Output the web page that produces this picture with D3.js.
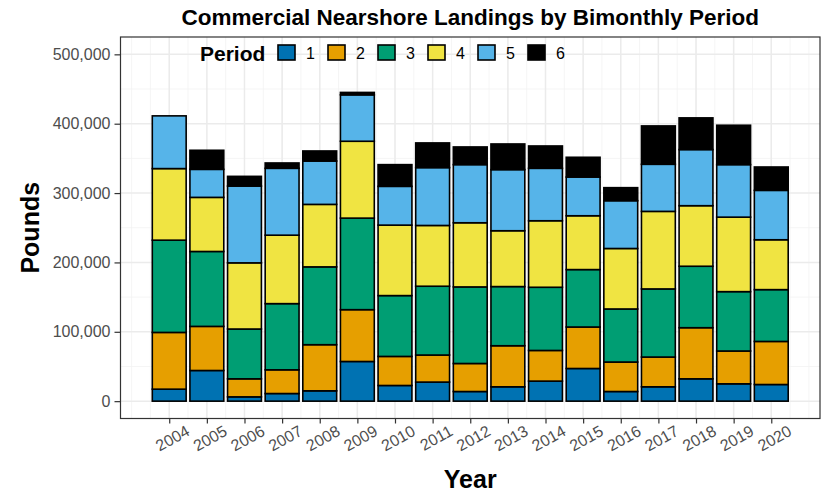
<!DOCTYPE html>
<html><head><meta charset="utf-8">
<script src="https://cdn.jsdelivr.net/npm/d3@7"></script>
<style>body{margin:0;background:#fff}svg{display:block;font-family:"Liberation Sans",Arial,sans-serif}</style>
</head><body><svg id="c" width="821" height="493"></svg>
<script>
const years = [2004,2005,2006,2007,2008,2009,2010,2011,2012,2013,2014,2015,2016,2017,2018,2019,2020];
const periods = ["1","2","3","4","5","6"];
const colors = ["#0072B2","#E69F00","#009E73","#F0E442","#56B4E9","#000000"];
const p1 = [17300,44200,6200,11000,14900,57200,22600,27500,13900,20700,28900,47100,13900,20700,32200,25000,24000];
const p2 = [81800,63600,26000,34200,66500,74700,41900,39000,40400,59200,44200,59800,42500,42900,73700,47300,62100];
const p3 = [133000,108000,71800,95400,112200,132000,87700,99200,110400,85300,91100,82800,76500,98200,88600,85600,74700];
const p4 = [103200,78000,95400,98700,90100,110800,101600,87600,92500,80500,95900,77600,87200,111800,87300,107400,71900];
const p5 = [76000,40400,110700,96400,62500,66900,55900,83400,83800,88100,75600,55800,68900,67900,80900,75700,71200];
const p6 = [0,27500,14000,7700,14500,3500,31300,35600,25500,37000,32200,28500,18800,55300,45700,56800,33700];
const yTicks = [0,100000,200000,300000,400000,500000];

const series = [p1,p2,p3,p4,p5,p6];
const rows = years.map((y,i)=>{const r={year:y}; periods.forEach((p,k)=>r[p]=series[k][i]); return r;});
const stacked = d3.stack().keys(periods)(rows);

const svg = d3.select("#c");
const L=120.5, R=820, T=37, B=418.5;
const x = d3.scaleLinear().domain([2002.705,2021.295]).range([L,R]);
const y = d3.scaleLinear().domain([-25000,525000]).range([B,T]);

// grid
const g = svg.append("g");
const minorX = d3.range(2003,2021.01,0.5);
const minorY = d3.range(50000,460000,100000);
g.selectAll(".mx").data(minorX).join("line").attr("x1",d=>x(d)).attr("x2",d=>x(d)).attr("y1",T).attr("y2",B).attr("stroke","#F2F2F2").attr("stroke-width",0.8);
g.selectAll(".my").data(minorY).join("line").attr("x1",L).attr("x2",R).attr("y1",d=>y(d)).attr("y2",d=>y(d)).attr("stroke","#F2F2F2").attr("stroke-width",0.8);
g.selectAll(".Mx").data(years).join("line").attr("x1",d=>x(d)).attr("x2",d=>x(d)).attr("y1",T).attr("y2",B).attr("stroke","#EBEBEB").attr("stroke-width",1.5);
g.selectAll(".My").data(yTicks).join("line").attr("x1",L).attr("x2",R).attr("y1",d=>y(d)).attr("y2",d=>y(d)).attr("stroke","#EBEBEB").attr("stroke-width",1.5);

// bars
const bw = x(2004.45)-x(2003.55);
svg.append("g").selectAll("g").data(stacked).join("g").attr("fill",(d,i)=>colors[i])
 .selectAll("rect").data(d=>d).join("rect")
 .attr("x",d=>x(d.data.year)-bw/2).attr("width",bw)
 .attr("y",d=>y(d[1])).attr("height",d=>Math.max(0,y(d[0])-y(d[1])))
 .attr("stroke","#000").attr("stroke-width",1.6);

// border
svg.append("rect").attr("x",L).attr("y",T).attr("width",R-L).attr("height",B-T).attr("fill","none").attr("stroke","#333").attr("stroke-width",1.2);

// axes
const ya = svg.append("g").attr("transform",`translate(${L},0)`).call(d3.axisLeft(y).tickValues(yTicks).tickFormat(d3.format(",")).tickSize(6).tickPadding(4));
ya.select(".domain").remove();
ya.selectAll(".tick line").attr("stroke","#333").attr("stroke-width",1.2);
ya.selectAll(".tick text").attr("fill","#4D4D4D").style("font-size","16px").style("font-family","Liberation Sans, Arial, sans-serif");

const xa = svg.append("g").attr("transform",`translate(0,${B})`).call(d3.axisBottom(x).tickValues(years).tickFormat(d3.format("d")).tickSize(5));
xa.select(".domain").remove();
xa.selectAll(".tick line").attr("stroke","#333").attr("stroke-width",1.2);
xa.selectAll(".tick text").attr("fill","#4D4D4D").style("font-size","16px").style("font-family","Liberation Sans, Arial, sans-serif")
  .attr("text-anchor","end").attr("dy",null).attr("y",null)
  .attr("transform","translate(21,16) rotate(-29)");

// titles
svg.append("text").attr("x",(L+R)/2).attr("y",25).attr("text-anchor","middle").style("font-weight","bold").style("font-size","22.5px").text("Commercial Nearshore Landings by Bimonthly Period");
svg.append("text").attr("x",(L+R)/2).attr("y",488).attr("text-anchor","middle").style("font-weight","bold").style("font-size","25px").text("Year");
svg.append("text").attr("transform",`translate(39,${(T+B)/2}) rotate(-90)`).attr("text-anchor","middle").style("font-weight","bold").style("font-size","25px").text("Pounds");

// legend
const lg = svg.append("g");
lg.append("text").attr("x",200).attr("y",61).style("font-weight","bold").style("font-size","21px").text("Period");
const items = lg.selectAll(".it").data(periods).join("g").attr("transform",(d,i)=>`translate(${278+i*50},45)`);
items.append("rect").attr("width",17).attr("height",15).attr("fill",(d,i)=>colors[i]).attr("stroke","#000").attr("stroke-width",1.6);
items.append("text").attr("x",28).attr("y",13.5).style("font-size","16px").text(d=>d);
</script></body></html>
